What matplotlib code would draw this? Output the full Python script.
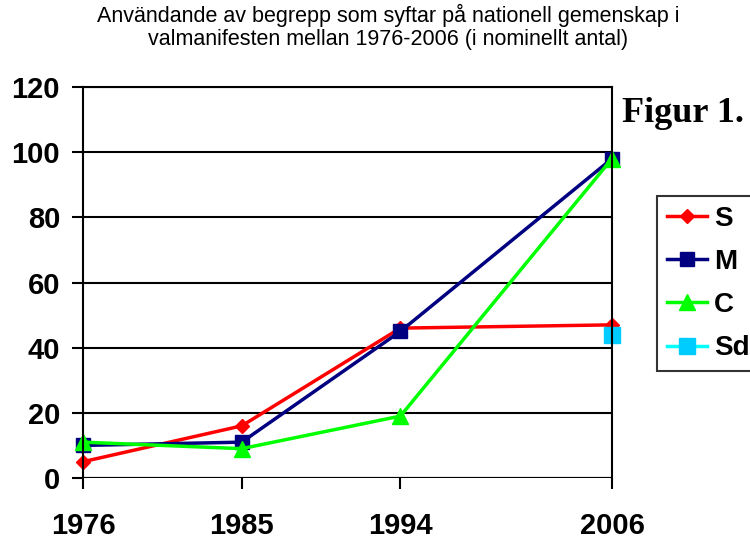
import numpy as np
import matplotlib
matplotlib.use("Agg")
import matplotlib.pyplot as plt

years = [1976, 1985, 1994, 2006]
S = [5, 16, 46, 47]
M = [10, 11, 45, 98]
C = [11, 9, 19, 98]
Sd = [np.nan, np.nan, np.nan, 44]
yticks = [0, 20, 40, 60, 80, 100, 120]
title = "Användande av begrepp som syftar på nationell gemenskap i\nvalmanifesten mellan 1976-2006 (i nominellt antal)"

plt.rcParams['font.family'] = ['Liberation Sans', 'DejaVu Sans']

fig = plt.figure(figsize=(7.5, 5.42), dpi=100)
ax = fig.add_axes([83/750, 1-478/542, (612-83)/750, (478-87)/542])

ax.plot(years, S, color='#FF0000', lw=2.5, marker='D', ms=7.5, label='S', clip_on=False)
ax.plot(years, M, color='#000080', lw=2.5, marker='s', ms=10, label='M', clip_on=False)
ax.plot(years, C, color='#00FF00', lw=2.5, marker='^', ms=11.5, label='C', clip_on=False)
ax.plot(years, Sd, color='#00FFFF', lw=2.5, marker='s', ms=12, mfc='#00CCFF', mec='#00CCFF',
        label='Sd', clip_on=False)

ax.set_xlim(1976, 2006)
ax.set_ylim(0, 120)
ax.set_xticks(years)
ax.set_yticks(yticks)
ax.set_xticklabels([str(y) for y in years], fontsize=21, fontweight='bold')
ax.set_yticklabels([str(v) for v in yticks], fontsize=21, fontweight='bold')
ax.tick_params(axis='x', direction='out', length=8, width=1.5, pad=16.5)
ax.tick_params(axis='y', direction='out', length=8, width=1.5, pad=8.5)
ax.yaxis.grid(True, color='black', lw=1.5)
ax.set_axisbelow(True)
for sp in ['left', 'right', 'top']:
    ax.spines[sp].set_linewidth(1.5)
ax.spines['bottom'].set_visible(False)
ax.axhline(0, color='black', lw=1.5, zorder=1)

fig.text(388/750, 1-45/542, title, ha='center', va='baseline', fontsize=15.5, linespacing=1.1,
         multialignment='center')
fig.text(622/750, 1-122/542, 'Figur 1.', family=['Liberation Serif'], fontweight='bold',
         fontsize=26, ha='left', va='baseline')

leg = ax.legend(loc='upper left', bbox_to_anchor=(657/750, 1-196/542), bbox_transform=fig.transFigure,
                prop={'size': 20, 'weight': 'bold'}, frameon=True, fancybox=False,
                edgecolor='black', handlelength=1.45, handletextpad=0.25, labelspacing=0.62,
                borderpad=0.35, borderaxespad=0)
leg.get_frame().set_linewidth(1.5)

fig.savefig('out.png', dpi=100)
